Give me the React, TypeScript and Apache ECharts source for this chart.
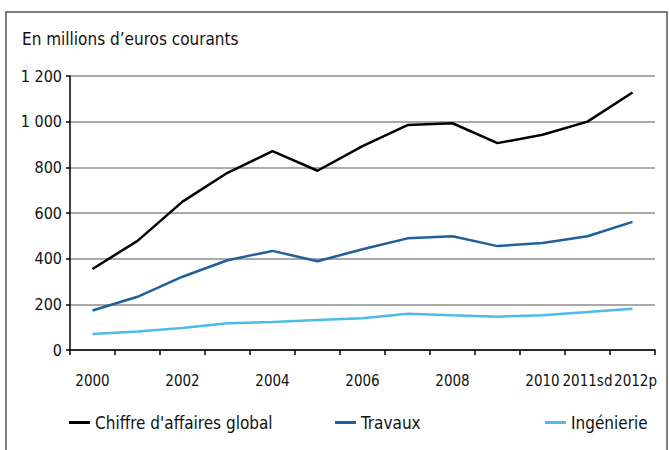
import React, { useEffect, useRef } from "react";
import * as echarts from "echarts";

const categories = [
  "2000", "2001", "2002", "2003", "2004", "2005", "2006",
  "2007", "2008", "2009", "2010", "2011sd", "2012p",
];
const chiffreGlobal = [355, 478, 650, 776, 871, 785, 893, 985, 993, 906, 943, 1000, 1128];
const travaux = [173, 233, 321, 393, 434, 389, 441, 489, 498, 455, 469, 498, 561];
const ingenierie = [70, 81, 96, 117, 123, 131, 139, 159, 152, 146, 152, 166, 181];

const seriesNames = ["Chiffre d'affaires global", "Travaux", "Ingénierie"];
const seriesColors = ["#000000", "#1f5f9c", "#4cbbe8"];
const yTicks = [0, 200, 400, 600, 800, 1000, 1200];
const titleText = "En millions d\u2019euros courants";

const FONT = "'DejaVu Sans Condensed', 'DejaVu Sans', sans-serif";

function fmt(v: number): string {
  return String(v).replace(/\B(?=(\d{3})+(?!\d))/g, " ");
}

export default function App() {
  const ref = useRef<HTMLDivElement>(null);

  useEffect(() => {
    document.body.style.margin = "0";
    if (!ref.current) return;
    const chart = echarts.init(ref.current, undefined, { renderer: "svg" });
    const seriesData = [chiffreGlobal, travaux, ingenierie];
    const legendLeft = [64, 330, 540];
    const lastIdx = categories.length - 1;

    chart.setOption({
      animation: false,
      backgroundColor: "#ffffff",
      textStyle: { fontFamily: FONT },
      graphic: [
        {
          type: "rect",
          shape: { x: 6, y: 12, width: 661, height: 460 },
          style: { fill: "none", stroke: "#555555", lineWidth: 1.5 },
        },
        {
          type: "text",
          left: 22,
          top: 30,
          style: { text: titleText, fill: "#111", font: `17px ${FONT}` },
        },
      ],
      legend: seriesNames.map((n, i) => ({
        data: [n],
        left: legendLeft[i],
        top: 409,
        itemWidth: 21,
        itemHeight: 3,
        itemGap: 6,
        icon: "rect",
        textStyle: { fontSize: 17, color: "#111", fontFamily: FONT },
      })),
      grid: { left: 70, right: 14, top: 76, bottom: 100, containLabel: false },
      xAxis: {
        type: "category",
        data: categories,
        boundaryGap: true,
        axisLine: { lineStyle: { color: "#000", width: 1.5 } },
        axisTick: { show: true, interval: 0, length: 5, lineStyle: { color: "#000", width: 1.5 } },
        axisLabel: {
          interval: (idx: number) => idx % 2 === 0 || idx >= 10,
          showMaxLabel: true,
          showMinLabel: true,
          formatter: (v: string, idx: number) => (idx === lastIdx ? `{p|${v}}` : v),
          rich: { p: { padding: [0, 0, 0, 6], fontSize: 15, color: "#111", fontFamily: FONT } },
          color: "#111",
          fontSize: 15,
          margin: 23,
          fontFamily: FONT,
        },
      },
      yAxis: {
        type: "value",
        min: 0,
        max: yTicks[yTicks.length - 1],
        interval: 200,
        axisLine: { show: true, lineStyle: { color: "#000", width: 1.5 } },
        axisTick: { show: true, length: 4, lineStyle: { color: "#000", width: 1.5 } },
        axisLabel: {
          formatter: (v: number) => fmt(v),
          color: "#111",
          fontSize: 16,
          margin: 8,
          fontFamily: FONT,
        },
        splitLine: { lineStyle: { color: "#8c8c8c", width: 1.5 } },
      },
      series: seriesNames.map((n, i) => ({
        name: n,
        type: "line",
        data: seriesData[i],
        symbol: "none",
        color: seriesColors[i],
        lineStyle: { width: 2.5, color: seriesColors[i] },
        z: 3 - i,
      })),
    });
    return () => chart.dispose();
  }, []);

  return <div ref={ref} style={{ width: 669, height: 450 }} />;
}
